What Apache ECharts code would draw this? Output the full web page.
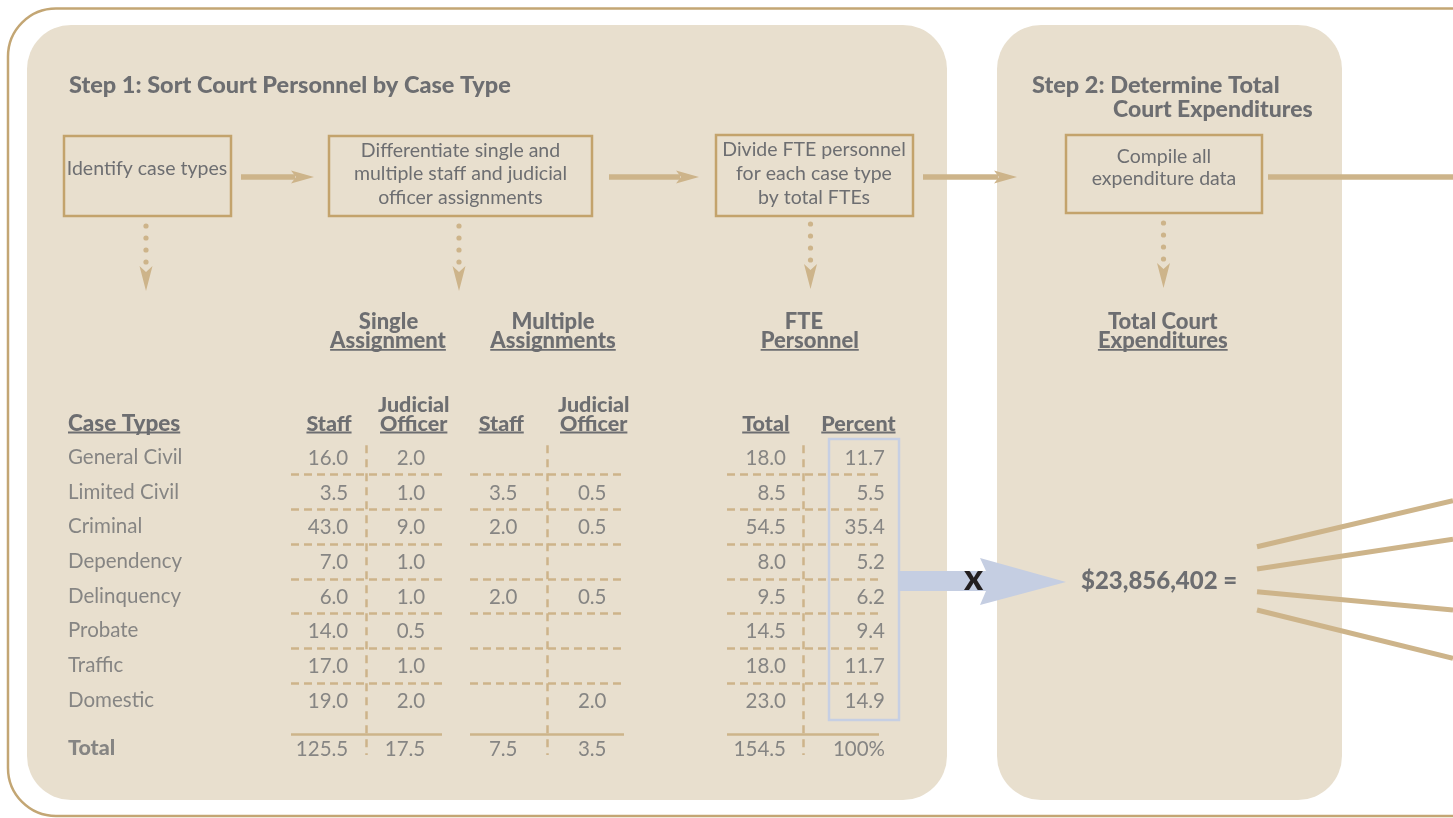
<!DOCTYPE html>
<html><head><meta charset="utf-8">
<script src="https://cdn.jsdelivr.net/npm/echarts@6/dist/echarts.min.js"></script>
<style>html,body{margin:0;padding:0;background:#fff}#main{width:1453px;height:818px}</style>
</head><body><div id="main"></div>
<script>
// ---------------- data ----------------
const caseTypes = ['General Civil','Limited Civil','Criminal','Dependency','Delinquency','Probate','Traffic','Domestic'];
const singleStaff     = [16.0, 3.5, 43.0, 7.0, 6.0, 14.0, 17.0, 19.0];
const singleJudicial  = [2.0, 1.0, 9.0, 1.0, 1.0, 0.5, 1.0, 2.0];
const multipleStaff   = [null, 3.5, 2.0, null, 2.0, null, null, null];
const multipleJudicial= [null, 0.5, 0.5, null, 0.5, null, null, 2.0];
const fteTotal        = [18.0, 8.5, 54.5, 8.0, 9.5, 14.5, 18.0, 23.0];
const ftePercent      = [11.7, 5.5, 35.4, 5.2, 6.2, 9.4, 11.7, 14.9];
const totalLabel      = 'Total';
const singleTotals    = [125.5, 17.5];
const multipleTotals  = [7.5, 3.5];
const fteTotals       = [154.5, '100%'];
const totalExpenditure = '$23,856,402';
const stepTitles = ['Step 1: Sort Court Personnel by Case Type', 'Step 2: Determine Total', 'Court Expenditures'];
const stepBoxes = ['Identify case types', 'Differentiate single and\nmultiple staff and judicial\nofficer assignments', 'Divide FTE personnel\nfor each case type\nby total FTEs', 'Compile all\nexpenditure data'];
const groupHeaders = [['Single','Assignment'],['Multiple','Assignments'],['FTE','Personnel'],['Total Court','Expenditures']];
const columnHeaders = [['Case Types'],['Staff'],['Judicial','Officer'],['Staff'],['Judicial','Officer'],['Total'],['Percent']];

// ---------------- styles / layout ----------------
const GRAY = '#6d6e71', TAN = '#c3a36c', TAN_L = '#cdb48a', BEIGE = '#e8dfce', BLUE = '#c6cfe3';
const FONT = 'Lato';
const BOLD = 900;
const ROW_TOP = 440, ROW_H = 34.7, Y_MIN = -0.5, Y_MAX = 9;
const TOTAL_Y = 8.38, RULE_Y = 7.97;
const gridH = (Y_MAX - Y_MIN) * ROW_H;

const mctx = document.createElement('canvas').getContext('2d');
function tw(t, font) { mctx.font = font; return mctx.measureText(t).width; }

const G = [];
function text(t, x, baseline, size, weight, align, underline, color) {
  const font = weight + ' ' + size + 'px ' + FONT;
  G.push({type: 'text', z: 3, x: x, y: baseline - 0.28 * size,
    style: {text: t, font: font, fill: color || GRAY, align: align, textAlign: align, verticalAlign: 'middle', textVerticalAlign: 'middle'}});
  if (underline) {
    const w = tw(t, font);
    const x0 = align === 'center' ? x - w / 2 : x;
    G.push({type: 'line', z: 3, shape: {x1: x0, y1: baseline + 2.5, x2: x0 + w, y2: baseline + 2.5}, style: {stroke: color || GRAY, lineWidth: 1.8}});
  }
}
function block(t, x, cy, lh) {
  G.push({type: 'text', z: 3, x: x, y: cy,
    style: {text: t, font: '400 19.5px ' + FONT, fill: GRAY, align: 'center', textAlign: 'center', verticalAlign: 'middle', textVerticalAlign: 'middle', lineHeight: lh}});
}
function arrow(x0, tip, y) {
  G.push({type: 'line', z: 1, shape: {x1: x0, y1: y, x2: tip - 19, y2: y}, style: {stroke: TAN_L, lineWidth: 5.5}});
  G.push({type: 'polygon', z: 1, shape: {points: [[tip - 23, y - 6.5], [tip, y], [tip - 23, y + 6.5], [tip - 18, y]]}, style: {fill: TAN_L}});
}

// frame and panels
G.push({type: 'rect', z: 0, shape: {x: 8, y: 8.5, width: 1500, height: 807.5, r: 48}, style: {fill: '#fff', stroke: '#c3a674', lineWidth: 2.5}});
G.push({type: 'rect', z: 0, shape: {x: 27, y: 25, width: 920, height: 775, r: 44}, style: {fill: BEIGE}});
G.push({type: 'rect', z: 0, shape: {x: 997, y: 25, width: 345, height: 775, r: 44}, style: {fill: BEIGE}});

// step titles
text(stepTitles[0], 69, 92, 23.5, BOLD, 'left');
text(stepTitles[1], 1032, 92, 23.5, BOLD, 'left');
text(stepTitles[2], 1113, 116, 23, BOLD, 'left');

// process boxes
[[64, 136, 167, 80], [329, 136, 263, 80], [716, 135, 197, 81], [1066, 135, 196, 78]].forEach(function (b) {
  G.push({type: 'rect', z: 1, shape: {x: b[0], y: b[1], width: b[2], height: b[3]}, style: {fill: 'none', stroke: TAN, lineWidth: 2.5}});
});
block(stepBoxes[0], 147, 168.5, 24);
block(stepBoxes[1], 460.5, 174, 23.7);
block(stepBoxes[2], 814, 173.6, 24);
block(stepBoxes[3], 1164, 167.5, 22.5);

// arrows between boxes
arrow(241, 314, 177);
arrow(609, 699, 177);
arrow(923, 1017, 177);
G.push({type: 'line', z: 1, shape: {x1: 1268, y1: 177, x2: 1460, y2: 177}, style: {stroke: TAN_L, lineWidth: 5.5}});

// dotted down arrows
[[146, 226], [459, 226], [810.5, 224], [1163.5, 223]].forEach(function (d) {
  for (let k = 0; k < 4; k++) G.push({type: 'circle', z: 1, shape: {cx: d[0], cy: d[1] + 12 * k, r: 2.6}, style: {fill: TAN_L}});
  G.push({type: 'polygon', z: 1, shape: {points: [[d[0] - 6.5, d[1] + 40], [d[0], d[1] + 46], [d[0] + 6.5, d[1] + 40], [d[0], d[1] + 65]]}, style: {fill: TAN_L}});
});

// group headers
const HB = 22;
[[388.5, 388], [553, 553], [804, 809.7], [1162.7, 1162.8]].forEach(function (p, i) {
  text(groupHeaders[i][0], p[0], 328, HB, BOLD, 'center');
  text(groupHeaders[i][1], p[1], 347.3, HB, BOLD, 'center', true);
});

// column headers
text(columnHeaders[0][0], 68, 430, 22.5, BOLD, 'left', true);
[329, 413.7, 501.2, 593.7, 765.8, 858.4].forEach(function (x, i) {
  const h = columnHeaders[i + 1];
  if (h.length === 2) {
    text(h[0], x, 410.7, 21.5, BOLD, 'center');
    text(h[1], x, 430, 21.5, BOLD, 'center', true);
  } else {
    text(h[0], x, 430, 21.5, BOLD, 'center', true);
  }
});

// percent highlight & blue arrow
G.push({type: 'rect', z: 5, shape: {x: 829, y: 439, width: 70, height: 281}, style: {fill: 'none', stroke: BLUE, lineWidth: 2.5}});
G.push({type: 'polygon', z: 5, shape: {points: [[898, 571], [986, 571], [980, 558], [1066, 582], [980, 605], [986, 591], [898, 591]]}, style: {fill: '#c5cee2'}});
G.push({type: 'text', z: 6, x: 973.5, y: 578, style: {text: 'x', font: '900 36px ' + FONT, fill: '#231f20', align: 'center', textAlign: 'center', verticalAlign: 'middle', textVerticalAlign: 'middle'}});
text(totalExpenditure + ' =', 1081, 588, 24, BOLD, 'left');

// fan lines
[[546.7, 500.7], [569, 539.3], [591.7, 610], [610, 658.3]].forEach(function (l) {
  G.push({type: 'line', z: 1, shape: {x1: 1257, y1: l[0], x2: 1453, y2: l[1]}, style: {stroke: TAN_L, lineWidth: 5}});
});

// ---------------- table through grids/axes ----------------
const grids = [
  {left: 68, top: ROW_TOP, width: 200, height: gridH},
  {left: 291, top: ROW_TOP, width: 151, height: gridH},
  {left: 470, top: ROW_TOP, width: 154, height: gridH},
  {left: 727, top: ROW_TOP, width: 152, height: gridH}
];
const xAxes = grids.map(function (g, i) { return {gridIndex: i, type: 'value', min: i === 0 ? 0 : -0.5, max: i === 0 ? 1 : 1.5, show: false}; });
const yAxes = grids.map(function (g, i) { return {gridIndex: i, type: 'value', min: Y_MIN, max: Y_MAX, inverse: true, show: false}; });

function fmt(v) { return typeof v === 'number' ? v.toFixed(1) : v; }
const labelBase = {show: true, position: 'inside', formatter: '{b}', verticalAlign: 'middle', fontFamily: FONT, fontWeight: 400, fontSize: 20.5, color: GRAY};
const series = [];

series.push({
  type: 'scatter', xAxisIndex: 0, yAxisIndex: 0, symbolSize: 2, silent: true,
  itemStyle: {color: 'rgba(0,0,0,0)'}, emphasis: {disabled: true},
  label: Object.assign({}, labelBase, {align: 'left', offset: [0, 0]}),
  data: caseTypes.map(function (n, i) { return {name: n, value: [0, i]}; }).concat([
    {name: totalLabel, value: [0, TOTAL_Y], label: {fontWeight: BOLD, fontSize: 21.5}}])
});

const groups = [
  {grid: 1, cols: [singleStaff, singleJudicial], totals: singleTotals, dx: [19.5, 21]},
  {grid: 2, cols: [multipleStaff, multipleJudicial], totals: multipleTotals, dx: [9, 21]},
  {grid: 3, cols: [fteTotal, ftePercent], totals: fteTotals, dx: [21, 44]}
];
const dashYs = caseTypes.slice(1).map(function (c, i) { return i + 0.5; });
groups.forEach(function (g) {
  g.cols.forEach(function (col, c) {
    const data = [];
    col.forEach(function (v, i) { if (v !== null) data.push({name: fmt(v), value: [c, i]}); });
    data.push({name: fmt(g.totals[c]), value: [c, TOTAL_Y]});
    const s = {
      type: 'scatter', xAxisIndex: g.grid, yAxisIndex: g.grid, symbolSize: 2, silent: true,
      itemStyle: {color: 'rgba(0,0,0,0)'}, emphasis: {disabled: true},
      label: Object.assign({}, labelBase, {align: 'right', offset: [g.dx[c], 1]}),
      data: data
    };
    if (c === 0) {
      s.markLine = {
        silent: true, symbol: ['none', 'none'], label: {show: false}, emphasis: {disabled: true},
        lineStyle: {color: TAN_L, width: 2.5, type: [8, 5]},
        data: dashYs.map(function (y) { return {yAxis: y}; }).concat([
          {yAxis: RULE_Y, lineStyle: {type: 'solid', color: TAN_L, width: 2.5}},
          [{coord: [0.5, -0.35], lineStyle: {type: [8, 6], color: TAN_L, width: 2.5}},
           {coord: [0.5, 8.58], lineStyle: {type: [8, 6], color: TAN_L, width: 2.5}}]
        ])
      };
    }
    series.push(s);
  });
});

const chart = echarts.init(document.getElementById('main'), null, {renderer: 'canvas'});
chart.setOption({
  animation: false,
  backgroundColor: '#fff',
  graphic: {elements: G},
  grid: grids,
  xAxis: xAxes,
  yAxis: yAxes,
  series: series
});
</script></body></html>
